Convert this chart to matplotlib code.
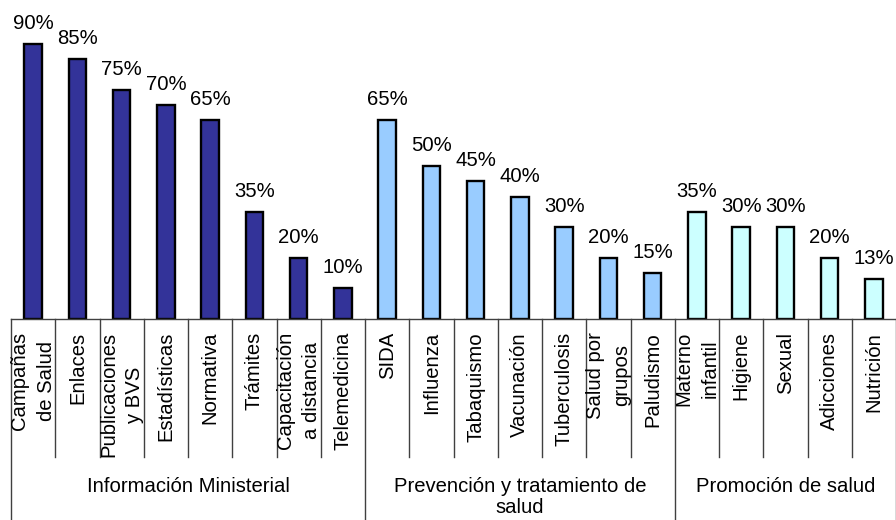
import numpy as np
import matplotlib.pyplot as plt

plt.rcParams['font.family'] = ['Liberation Sans', 'DejaVu Sans']

# categorias y porcentajes por grupo
grupos = ['Información Ministerial', 'Prevención y tratamiento de\nsalud', 'Promoción de salud']
cat_info = ['Campañas\nde Salud', 'Enlaces', 'Publicaciones\ny BVS', 'Estadísticas', 'Normativa',
            'Trámites', 'Capacitación\na distancia', 'Telemedicina']
val_info = [90, 85, 75, 70, 65, 35, 20, 10]
cat_prev = ['SIDA', 'Influenza', 'Tabaquismo', 'Vacunación', 'Tuberculosis', 'Salud por\ngrupos', 'Paludismo']
val_prev = [65, 50, 45, 40, 30, 20, 15]
cat_prom = ['Materno\ninfantil', 'Higiene', 'Sexual', 'Adicciones', 'Nutrición']
val_prom = [35, 30, 30, 20, 13]
colores = ['#333399', '#99ccff', '#ccffff']

cats = [cat_info, cat_prev, cat_prom]
vals = [val_info, val_prev, val_prom]

fig = plt.figure(figsize=(8.96, 5.2), dpi=100)
W, H = 896, 520
ax_bottom, ax_top = 319, 13.4
ax = fig.add_axes([11 / W, 1 - ax_bottom / H, 885 / W, (ax_bottom - ax_top) / H])
ax.set_xlim(0, 20)
ax.set_ylim(0, 100)
ax.axis('off')

axh = ax_bottom - ax_top
def fy(px):
    # pixel distance below the axis -> axes fraction
    return -px / axh

trans = ax.get_xaxis_transform()
fs = 14.6
pos = 0
bounds = [0]
for g, (c, v, col) in enumerate(zip(cats, vals, colores)):
    x = np.arange(len(v)) + pos + 0.5
    ax.bar(x, v, width=0.40, color=col, edgecolor='black', linewidth=1.7, zorder=3)
    for xi, vi, ci in zip(x, v, c):
        ax.annotate(f'{vi}%', (xi, vi), xytext=(0, 8), textcoords='offset points',
                    ha='center', va='bottom', fontsize=fs)
        ax.text(xi, fy(13), ci, rotation=90, ha='center', va='top', multialignment='center',
                fontsize=fs, linespacing=1.5, transform=trans, clip_on=False)
    ax.text(pos + len(v) / 2, fy(158), grupos[g], ha='center', va='top', fontsize=fs,
            linespacing=1.15, transform=trans, clip_on=False)
    pos += len(v)
    bounds.append(pos)

# eje horizontal y divisiones de categorias
ax.plot([0, 20], [0, 0], color='#404040', lw=1, transform=trans, clip_on=False, zorder=4)
for i in range(21):
    low = fy(210) if i in bounds else fy(138)
    ax.plot([i, i], [0, low], color='#404040', lw=1, transform=trans, clip_on=False)

fig.savefig('out.png', dpi=100)
